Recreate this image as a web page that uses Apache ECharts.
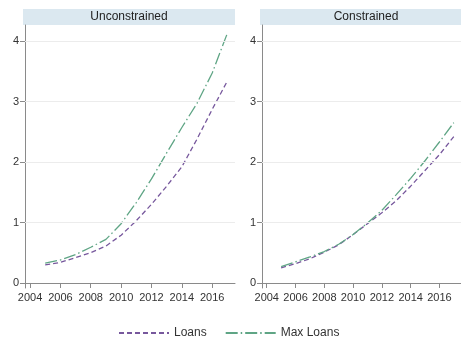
<!DOCTYPE html>
<html>
<head>
<meta charset="utf-8">
<script src="https://cdn.jsdelivr.net/npm/echarts@6/dist/echarts.min.js"></script>
<style>
  html, body { margin: 0; padding: 0; background: #fff; }
  #chart { width: 461px; height: 340px; }
</style>
</head>
<body>
<div id="chart"></div>
<script>
// Years and loan series for each borrower group
const years = [2005, 2006, 2007, 2008, 2009, 2010, 2011, 2012, 2013, 2014, 2015, 2016, 2017];
const unconstrainedLoans    = [0.30, 0.34, 0.42, 0.50, 0.61, 0.79, 1.03, 1.30, 1.60, 1.92, 2.38, 2.87, 3.34];
const unconstrainedMaxLoans = [0.33, 0.38, 0.47, 0.59, 0.72, 0.98, 1.33, 1.72, 2.15, 2.57, 2.97, 3.47, 4.13];
const constrainedLoans      = [0.25, 0.32, 0.40, 0.51, 0.63, 0.80, 0.98, 1.16, 1.36, 1.60, 1.86, 2.12, 2.42];
const constrainedMaxLoans   = [0.27, 0.35, 0.43, 0.52, 0.64, 0.80, 0.99, 1.20, 1.46, 1.73, 2.02, 2.33, 2.65];
const yTicks = [0, 1, 2, 3, 4];
const xTicks = [2004, 2006, 2008, 2010, 2012, 2014, 2016];
const panelTitles = ['Unconstrained', 'Constrained'];

const pairs = (ys) => years.map((y, i) => [y, ys[i]]);

const FONT = 'Liberation Sans, Arial, sans-serif';
const PURPLE = '#77589d';
const GREEN = '#5fa585';
const AXIS = '#8a8a8a';

const panelLeft = [25, 262];
const panelWidth = 210;

function xAxisFor(idx) {
  return {
    type: 'value', gridIndex: idx, min: 2003.67, max: 2017.5,
    axisLine: { lineStyle: { color: AXIS, width: 1 } },
    axisTick: { show: true, length: 5, customValues: xTicks, lineStyle: { color: AXIS } },
    axisLabel: { customValues: xTicks, formatter: v => String(v),
                 color: '#333', fontFamily: FONT, fontSize: 11, margin: 4 },
    splitLine: { show: false }
  };
}
function yAxisFor(idx) {
  return {
    type: 'value', gridIndex: idx, min: -0.083, max: 4.264,
    axisLine: { show: true, lineStyle: { color: AXIS, width: 1 } },
    axisTick: { show: true, length: 5, customValues: yTicks, lineStyle: { color: AXIS } },
    axisLabel: { customValues: yTicks, color: '#333', fontFamily: FONT, fontSize: 11, margin: 6 },
    splitLine: { show: false }
  };
}
// faint horizontal reference lines at the labelled y values
function gridLines(idx) {
  return {
    type: 'line', xAxisIndex: idx, yAxisIndex: idx, data: [], silent: true,
    markLine: {
      silent: true, symbol: 'none', label: { show: false },
      lineStyle: { color: '#ececec', type: 'solid', width: 1 },
      data: yTicks.filter(v => v > 0).map(v => ({ yAxis: v }))
    }
  };
}
const loansStyle = { color: PURPLE, width: 1.3, type: [5, 3] };
const maxStyle = { color: GREEN, width: 1.3, type: [12, 3, 1.5, 3] };

function lineSeries(name, idx, data, style) {
  return {
    name, type: 'line', xAxisIndex: idx, yAxisIndex: idx,
    data: pairs(data), symbol: 'none', smooth: false,
    lineStyle: style, itemStyle: { color: style.color }
  };
}

function strip(idx) {
  const left = panelLeft[idx] - 2;
  return [
    { type: 'rect', shape: { x: left, y: 9, width: panelWidth + 2, height: 16 },
      style: { fill: '#dbe8f0' }, z: 0 },
    { type: 'text', x: left + (panelWidth + 2) / 2, y: 17,
      style: { text: panelTitles[idx], fill: '#222', font: '12px ' + FONT,
               align: 'center', verticalAlign: 'middle' }, z: 1 }
  ];
}

const chart = echarts.init(document.getElementById('chart'), null, { renderer: 'canvas' });
chart.setOption({
  animation: false,
  backgroundColor: '#fff',
  grid: panelLeft.map(l => ({ left: l, top: 25, width: panelWidth, height: 263, containLabel: false })),
  xAxis: [xAxisFor(0), xAxisFor(1)],
  yAxis: [yAxisFor(0), yAxisFor(1)],
  legend: {
    data: ['Loans', 'Max Loans'],
    left: 113, top: 322,
    itemWidth: 50, itemHeight: 10, itemGap: 18,
    itemStyle: { opacity: 0 },
    textStyle: { color: '#333', fontFamily: FONT, fontSize: 12 }
  },
  graphic: [...strip(0), ...strip(1)],
  series: [
    gridLines(0), gridLines(1),
    lineSeries('Loans', 0, unconstrainedLoans, loansStyle),
    lineSeries('Max Loans', 0, unconstrainedMaxLoans, maxStyle),
    lineSeries('Loans', 1, constrainedLoans, loansStyle),
    lineSeries('Max Loans', 1, constrainedMaxLoans, maxStyle)
  ]
});
</script>
</body>
</html>
